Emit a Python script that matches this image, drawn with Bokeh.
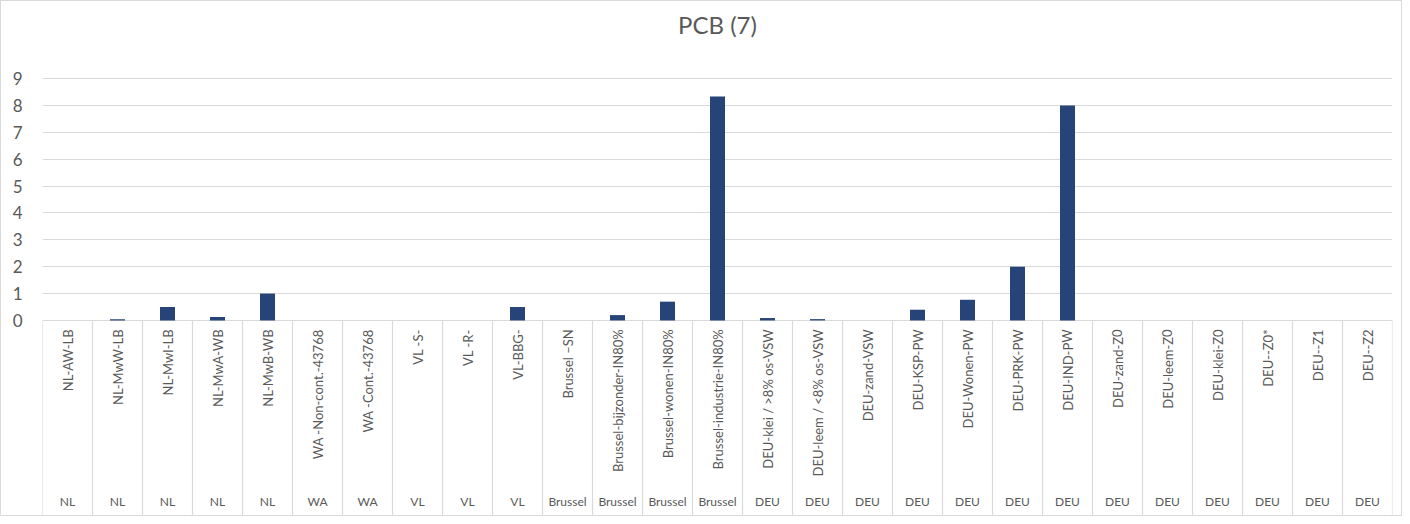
from bokeh.plotting import figure
from bokeh.models import FactorRange, Range1d, FixedTicker, ColumnDataSource
from bokeh.core.properties import value
from bokeh.embed import file_html
from bokeh.resources import INLINE

title_text = "PCB (7)"

categories = [
    "NL-AW-LB", "NL-MwW-LB", "NL-MwI-LB", "NL-MwA-WB", "NL-MwB-WB",
    "WA -Non-cont.-43768", "WA -Cont.-43768", "VL -S-", "VL -R-", "VL-BBG-",
    "Brussel –SN", "Brussel-bijzonder-IN80%", "Brussel-wonen-IN80%", "Brussel-industrie-IN80%",
    "DEU-klei / >8% os-VSW", "DEU-leem / <8% os-VSW", "DEU-zand-VSW", "DEU-KSP-PW",
    "DEU-Wonen-PW", "DEU-PRK-PW", "DEU-IND-PW", "DEU-zand-Z0", "DEU-leem-Z0",
    "DEU-klei-Z0", "DEU--Z0*", "DEU--Z1", "DEU--Z2",
]
groups = [
    "NL", "NL", "NL", "NL", "NL",
    "WA", "WA", "VL", "VL", "VL",
    "Brussel", "Brussel", "Brussel", "Brussel",
    "DEU", "DEU", "DEU", "DEU", "DEU", "DEU", "DEU", "DEU", "DEU", "DEU", "DEU", "DEU", "DEU",
]
values = [
    0.0, 0.05, 0.5, 0.13, 1.0,
    0.0, 0.0, 0.0, 0.0, 0.5,
    0.0, 0.2, 0.7, 8.33,
    0.09, 0.05, 0.0, 0.4, 0.77, 2.0, 8.0, 0.0, 0.0, 0.0, 0.0, 0.0, 0.0,
]
y_ticks = [0, 1, 2, 3, 4, 5, 6, 7, 8, 9]

TEXT = "#595959"
GRID = "#d9d9d9"
BAR = "#264478"
FONT = "Lato"

n = len(categories)
y_lo, y_hi = -7.33, 10.49

p = figure(
    x_range=FactorRange(*categories),
    y_range=Range1d(y_lo, y_hi),
    width=1402, height=516,
    output_backend="svg", toolbar_location=None,
    min_border_left=41, min_border_right=11, min_border_top=37, min_border_bottom=0,
)
p.styles = {"border": "1px solid #d9d9d9"}

p.title.text = title_text
p.title.align = "center"
p.title.text_font = FONT
p.title.text_font_size = "24px"
p.title.text_font_style = "normal"
p.title.text_color = TEXT
p.title.standoff = 0

p.outline_line_color = None
p.background_fill_color = "white"
p.border_fill_color = "white"

p.xaxis.visible = False
p.xgrid.grid_line_color = None

p.yaxis.ticker = FixedTicker(ticks=y_ticks)
p.yaxis.axis_line_color = None
p.yaxis.major_tick_line_color = None
p.yaxis.minor_tick_line_color = None
p.yaxis.major_label_text_font = FONT
p.yaxis.major_label_text_font_size = "17px"
p.yaxis.major_label_text_color = TEXT
p.yaxis.major_label_standoff = 14

p.ygrid.ticker = FixedTicker(ticks=y_ticks)
p.ygrid.grid_line_color = GRID
p.ygrid.grid_line_width = 1

src = ColumnDataSource(dict(cat=categories, val=values, grp=groups))

p.vbar(x="cat", top="val", bottom=0, width=0.3, source=src,
       fill_color=BAR, line_color=None)

# separators of the category table
bounds = list(range(n + 1))
p.segment(x0=bounds, y0=[0] * len(bounds), x1=bounds, y1=[y_lo] * len(bounds),
          line_color=GRID, line_width=1.2)

p.text(x="cat", y=-0.33, text="cat", source=src, angle=1.5708,
       text_align="right", text_baseline="middle",
       text_font=value(FONT), text_font_size="13px", text_color=TEXT)

p.text(x="cat", y=-6.73, text="grp", source=src,
       text_align="center", text_baseline="middle",
       text_font=value(FONT), text_font_size="12px", text_color=TEXT)

open("out.html", "w").write(file_html(p, INLINE))
